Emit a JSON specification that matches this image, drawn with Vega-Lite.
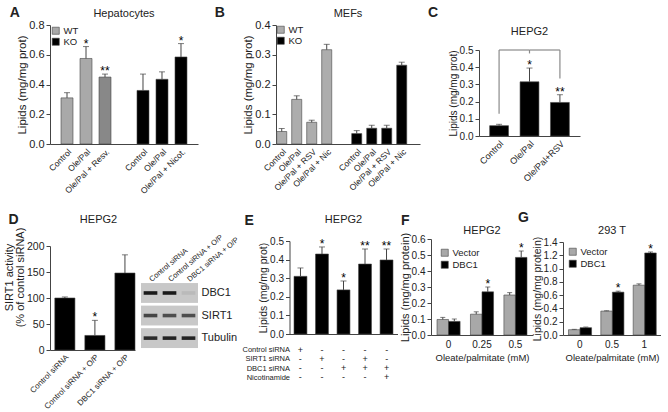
{
"$schema": "https://vega.github.io/schema/vega-lite/v6.json",
"padding": {"left": 3, "top": 6, "right": 0, "bottom": 0},
"background": "white",
"config": {
  "font": "Liberation Sans",
  "view": {"stroke": null},
  "axis": {"grid": false, "labelOverlap": false, "labelColor": "#222", "titleColor": "#222", "domainColor": "#444", "tickColor": "#444", "labelFontSize": 10, "titleFontSize": 11, "titleFontWeight": "normal", "tickSize": 4, "labelPadding": 2, "titlePadding": 1},
  "axisY": {"labelOverlap": false},
  "axisQuantitative": {"labelOverlap": false},
  "title": {"fontSize": 11, "fontWeight": "normal", "color": "#222", "frame": "group"},
  "legend": {"labelFontSize": 9.5, "labelColor": "#222", "symbolType": "square", "symbolSize": 50, "title": null, "padding": 0, "rowPadding": 0, "labelOffset": 3, "symbolStrokeColor": "#444", "symbolStrokeWidth": 0.6}
},
"datasets": {
  "A": [
    {"cond": "WT Control", "geno": "WT", "value": 0.31, "hi": 0.345, "sig": ""},
    {"cond": "WT Ole/Pal", "geno": "WT", "value": 0.575, "hi": 0.655, "sig": "*"},
    {"cond": "WT Ole/Pal + Resv.", "geno": "WT", "value": 0.45, "hi": 0.47, "sig": "**"},
    {"cond": "KO Control", "geno": "KO", "value": 0.36, "hi": 0.47, "sig": ""},
    {"cond": "KO Ole/Pal", "geno": "KO", "value": 0.435, "hi": 0.485, "sig": ""},
    {"cond": "KO Ole/Pal + Nicot.", "geno": "KO", "value": 0.585, "hi": 0.675, "sig": "*"}
  ],
  "B": [
    {"cond": "WT Control", "geno": "WT", "value": 0.042, "hi": 0.052},
    {"cond": "WT Ole/Pal", "geno": "WT", "value": 0.15, "hi": 0.162},
    {"cond": "WT Ole/Pal + RSV", "geno": "WT", "value": 0.073, "hi": 0.08},
    {"cond": "WT Ole/Pal + Nic", "geno": "WT", "value": 0.317, "hi": 0.335},
    {"cond": "KO Control", "geno": "KO", "value": 0.035, "hi": 0.045},
    {"cond": "KO Ole/Pal", "geno": "KO", "value": 0.053, "hi": 0.063},
    {"cond": "KO Ole/Pal + RSV", "geno": "KO", "value": 0.053, "hi": 0.063},
    {"cond": "KO Ole/Pal + Nic", "geno": "KO", "value": 0.265, "hi": 0.275}
  ],
  "C": [
    {"cond": "Control", "value": 0.06, "hi": 0.068, "sig": ""},
    {"cond": "Ole/Pal", "value": 0.315, "hi": 0.395, "sig": "*"},
    {"cond": "Ole/Pal+RSV", "value": 0.195, "hi": 0.24, "sig": "**"}
  ],
  "Cbr": [
    {"a": "Control", "b": "Control", "lo": 0.13, "top": 0.5},
    {"a": "Control", "b": "Ole/Pal", "lo": 0.5, "top": 0.5},
    {"a": "Ole/Pal", "b": "Ole/Pal", "lo": 0.48, "top": 0.5},
    {"a": "Ole/Pal", "b": "Ole/Pal+RSV", "lo": 0.5, "top": 0.5},
    {"a": "Ole/Pal+RSV", "b": "Ole/Pal+RSV", "lo": 0.335, "top": 0.5}
  ],
  "D": [
    {"cond": "Control siRNA", "value": 100, "hi": 102, "sig": ""},
    {"cond": "Control siRNA + O/P", "value": 28, "hi": 57, "sig": "*"},
    {"cond": "DBC1 siRNA + O/P", "value": 148, "hi": 183, "sig": ""}
  ],
  "blot": [
    {"lane": "Control siRNA", "protein": "DBC1", "intensity": 1.0},
    {"lane": "Control siRNA + O/P", "protein": "DBC1", "intensity": 1.0},
    {"lane": "DBC1 siRNA + O/P", "protein": "DBC1", "intensity": 0.08},
    {"lane": "Control siRNA", "protein": "SIRT1", "intensity": 0.75},
    {"lane": "Control siRNA + O/P", "protein": "SIRT1", "intensity": 0.7},
    {"lane": "DBC1 siRNA + O/P", "protein": "SIRT1", "intensity": 0.7},
    {"lane": "Control siRNA", "protein": "Tubulin", "intensity": 0.9},
    {"lane": "Control siRNA + O/P", "protein": "Tubulin", "intensity": 0.95},
    {"lane": "DBC1 siRNA + O/P", "protein": "Tubulin", "intensity": 0.95}
  ],
  "E": [
    {"bar": "1", "value": 0.31, "hi": 0.355, "sig": ""},
    {"bar": "2", "value": 0.43, "hi": 0.468, "sig": "*"},
    {"bar": "3", "value": 0.237, "hi": 0.285, "sig": "*"},
    {"bar": "4", "value": 0.376, "hi": 0.457, "sig": "**"},
    {"bar": "5", "value": 0.398, "hi": 0.457, "sig": "**"}
  ],
  "Etab": [
    {"bar": "1", "row": "Control siRNA", "sign": "+"},
    {"bar": "2", "row": "Control siRNA", "sign": "-"},
    {"bar": "3", "row": "Control siRNA", "sign": "-"},
    {"bar": "4", "row": "Control siRNA", "sign": "-"},
    {"bar": "5", "row": "Control siRNA", "sign": "-"},
    {"bar": "1", "row": "SIRT1 siRNA", "sign": "-"},
    {"bar": "2", "row": "SIRT1 siRNA", "sign": "+"},
    {"bar": "3", "row": "SIRT1 siRNA", "sign": "-"},
    {"bar": "4", "row": "SIRT1 siRNA", "sign": "+"},
    {"bar": "5", "row": "SIRT1 siRNA", "sign": "-"},
    {"bar": "1", "row": "DBC1 siRNA", "sign": "-"},
    {"bar": "2", "row": "DBC1 siRNA", "sign": "-"},
    {"bar": "3", "row": "DBC1 siRNA", "sign": "+"},
    {"bar": "4", "row": "DBC1 siRNA", "sign": "+"},
    {"bar": "5", "row": "DBC1 siRNA", "sign": "+"},
    {"bar": "1", "row": "Nicotinamide", "sign": "-"},
    {"bar": "2", "row": "Nicotinamide", "sign": "-"},
    {"bar": "3", "row": "Nicotinamide", "sign": "-"},
    {"bar": "4", "row": "Nicotinamide", "sign": "-"},
    {"bar": "5", "row": "Nicotinamide", "sign": "+"}
  ],
  "F": [
    {"dose": "0", "vec": "Vector", "value": 0.097, "hi": 0.11, "sig": ""},
    {"dose": "0", "vec": "DBC1", "value": 0.085, "hi": 0.1, "sig": ""},
    {"dose": "0.25", "vec": "Vector", "value": 0.13, "hi": 0.145, "sig": ""},
    {"dose": "0.25", "vec": "DBC1", "value": 0.27, "hi": 0.3, "sig": "*"},
    {"dose": "0.5", "vec": "Vector", "value": 0.25, "hi": 0.265, "sig": ""},
    {"dose": "0.5", "vec": "DBC1", "value": 0.485, "hi": 0.525, "sig": "*"}
  ],
  "G": [
    {"dose": "0", "vec": "Vector", "value": 0.08, "hi": 0.085, "sig": ""},
    {"dose": "0", "vec": "DBC1", "value": 0.11, "hi": 0.12, "sig": ""},
    {"dose": "0.5", "vec": "Vector", "value": 0.36, "hi": 0.365, "sig": ""},
    {"dose": "0.5", "vec": "DBC1", "value": 0.645, "hi": 0.66, "sig": "*"},
    {"dose": "1", "vec": "Vector", "value": 0.75, "hi": 0.77, "sig": ""},
    {"dose": "1", "vec": "DBC1", "value": 1.235, "hi": 1.25, "sig": "*"}
  ]
},
"resolve": {"scale": {"color": "independent", "opacity": "independent"}},
"spacing": 16,
"vconcat": [
  {"resolve": {"scale": {"color": "independent"}},
   "spacing": 16,
   "hconcat": [
    {"title": {"text": "A", "anchor": "start", "frame": "bounds", "fontSize": 14, "fontWeight": "bold", "offset": -13, "dx": -7},
     "resolve": {"scale": {"color": "independent"}},
     "spacing": 0,
     "vconcat": [
      {"width": 1, "height": 1, "data": {"values": []}, "mark": "point", "encoding": {}},
      {
      "width": 148, "height": 119,
      "title": {"text": "Hepatocytes", "offset": 0},
      "data": {"name": "A"},
      "encoding": {
        "x": {"field": "cond", "type": "nominal", "sort": null,
          "scale": {"domain": ["WT Control", "WT Ole/Pal", "WT Ole/Pal + Resv.", "gap", "KO Control", "KO Ole/Pal", "KO Ole/Pal + Nicot."], "paddingInner": 0.37, "paddingOuter": 0.58},
          "axis": {"title": null, "labelAngle": -45, "labelFontSize": 8.5, "ticks": false, "labelOverlap": false, "labelExpr": "datum.label == 'gap' ? '' : slice(datum.label, 3)", "labelPadding": 3}},
        "y": {"field": "value", "type": "quantitative", "scale": {"domain": [0, 0.8], "nice": false}, "axis": {"title": "Lipids (mg/mg prot)", "titleFontSize": 11.5, "labelFontSize": 11, "labelOverlap": false, "values": [0, 0.2, 0.4, 0.6, 0.8], "format": ".1f"}}
      },
      "layer": [
        {"mark": {"type": "bar", "stroke": "#444", "strokeWidth": 0.6},
         "encoding": {
           "color": {"condition": {"test": "datum.cond == 'WT Ole/Pal + Resv.'", "value": "#888888"}, "field": "geno", "type": "nominal", "scale": {"domain": ["WT", "KO"], "range": ["#a9a9a9", "#000000"]}, "legend": {"orient": "top-left", "offset": 1}}
         }},
        {"mark": {"type": "rule", "color": "#444"}, "encoding": {"y2": {"field": "hi"}}},
        {"mark": {"type": "tick", "orient": "horizontal", "size": 6, "thickness": 1, "color": "#444"}, "encoding": {"y": {"field": "hi", "type": "quantitative", "axis": {"title": "Lipids (mg/mg prot)", "titleFontSize": 11.5, "labelFontSize": 11, "labelOverlap": false, "values": [0, 0.2, 0.4, 0.6, 0.8], "format": ".1f"}}}},
        {"mark": {"type": "text", "fontSize": 12, "baseline": "alphabetic", "dy": 1}, "encoding": {"y": {"field": "hi", "type": "quantitative", "axis": {"title": "Lipids (mg/mg prot)", "titleFontSize": 11.5, "labelFontSize": 11, "labelOverlap": false, "values": [0, 0.2, 0.4, 0.6, 0.8], "format": ".1f"}}, "text": {"field": "sig"}}}
      ]
    }]},
    {"resolve": {"scale": {"color": "independent"}},
     "spacing": 8,
     "hconcat": [
      {"title": {"text": "B", "anchor": "start", "frame": "bounds", "fontSize": 14, "fontWeight": "bold", "offset": -13, "dx": -28},
       "resolve": {"scale": {"color": "independent"}},
       "spacing": 0,
       "vconcat": [
        {"width": 1, "height": 1, "data": {"values": []}, "mark": "point", "encoding": {}},
        {
        "width": 144, "height": 119,
        "title": {"text": "MEFs", "offset": 0},
        "data": {"name": "B"},
        "encoding": {
          "x": {"field": "cond", "type": "nominal", "sort": null,
            "scale": {"domain": ["WT Control", "WT Ole/Pal", "WT Ole/Pal + RSV", "WT Ole/Pal + Nic", "gap", "KO Control", "KO Ole/Pal", "KO Ole/Pal + RSV", "KO Ole/Pal + Nic"], "paddingInner": 0.33, "paddingOuter": 0.465, "align": 0.05},
            "axis": {"title": null, "labelAngle": -45, "labelFontSize": 8.5, "ticks": false, "labelOverlap": false, "labelExpr": "datum.label == 'gap' ? '' : slice(datum.label, 3)", "labelPadding": 3}},
          "y": {"field": "value", "type": "quantitative", "scale": {"domain": [0, 0.4], "nice": false}, "axis": {"title": "Lipids (mg/mg prot)", "titleFontSize": 11.5, "labelFontSize": 11, "labelOverlap": false, "values": [0, 0.1, 0.2, 0.3, 0.4], "format": ".1f"}}
        },
        "layer": [
          {"mark": {"type": "bar", "stroke": "#444", "strokeWidth": 0.6},
           "encoding": {
             "color": {"field": "geno", "type": "nominal", "scale": {"domain": ["WT", "KO"], "range": ["#adadad", "#000000"]}, "legend": {"orient": "top-left", "offset": 0}}
           }},
          {"mark": {"type": "rule", "color": "#444"}, "encoding": {"y2": {"field": "hi"}}},
          {"mark": {"type": "tick", "orient": "horizontal", "size": 6, "thickness": 1, "color": "#444"}, "encoding": {"y": {"field": "hi", "type": "quantitative", "axis": {"title": "Lipids (mg/mg prot)", "titleFontSize": 11.5, "labelFontSize": 11, "labelOverlap": false, "values": [0, 0.1, 0.2, 0.3, 0.4], "format": ".1f"}}}}
        ]
      }]},
      {"title": {"text": "C", "anchor": "start", "frame": "bounds", "fontSize": 14, "fontWeight": "bold", "offset": -13, "dx": -20},
       "spacing": 0,
       "vconcat": [
        {"width": 1, "height": 17.5, "data": {"values": []}, "mark": "point", "encoding": {}},
        {
        "width": 101, "height": 86,
        "title": {"text": "HEPG2", "offset": 8.5},
        "encoding": {
          "x": {"field": "cond", "type": "nominal", "sort": null,
            "scale": {"domain": ["Control", "Ole/Pal", "Ole/Pal+RSV"], "paddingInner": 0.38, "paddingOuter": 0.35},
            "axis": {"title": null, "labelAngle": -45, "labelFontSize": 9, "ticks": false, "labelOverlap": false, "labelPadding": 3}}
        },
        "layer": [
          {"data": {"name": "C"}, "mark": {"type": "bar", "color": "#000", "stroke": "#444", "strokeWidth": 0.6},
           "encoding": {
             "y": {"field": "value", "type": "quantitative", "scale": {"domain": [0, 0.5], "nice": false}, "axis": {"title": "Lipids (mg/mg prot)", "titleFontSize": 10, "labelOverlap": false, "values": [0, 0.1, 0.2, 0.3, 0.4, 0.5], "format": ".1f"}}
           }},
          {"data": {"name": "C"}, "mark": {"type": "rule", "color": "#444"}, "encoding": {"y": {"field": "value", "type": "quantitative", "axis": {"title": "Lipids (mg/mg prot)", "titleFontSize": 10, "labelOverlap": false, "values": [0, 0.1, 0.2, 0.3, 0.4, 0.5], "format": ".1f"}}, "y2": {"field": "hi"}}},
          {"data": {"name": "C"}, "mark": {"type": "tick", "orient": "horizontal", "size": 6, "thickness": 1, "color": "#444"}, "encoding": {"y": {"field": "hi", "type": "quantitative", "axis": {"title": "Lipids (mg/mg prot)", "titleFontSize": 10, "labelOverlap": false, "values": [0, 0.1, 0.2, 0.3, 0.4, 0.5], "format": ".1f"}}}},
          {"data": {"name": "C"}, "mark": {"type": "text", "fontSize": 12, "baseline": "alphabetic", "dy": 1}, "encoding": {"y": {"field": "hi", "type": "quantitative", "axis": {"title": "Lipids (mg/mg prot)", "titleFontSize": 10, "labelOverlap": false, "values": [0, 0.1, 0.2, 0.3, 0.4, 0.5], "format": ".1f"}}, "text": {"field": "sig"}}},
          {"data": {"name": "Cbr"}, "mark": {"type": "rule", "color": "#8a8a8a", "strokeWidth": 1.2},
           "encoding": {"x": {"field": "a", "type": "nominal"}, "x2": {"field": "b"}, "y": {"field": "lo", "type": "quantitative", "axis": {"title": "Lipids (mg/mg prot)", "titleFontSize": 10, "labelOverlap": false, "values": [0, 0.1, 0.2, 0.3, 0.4, 0.5], "format": ".1f"}}, "y2": {"field": "top"}}}
        ]
      }]}
    ]}
  ]},
  {"resolve": {"scale": {"color": "independent", "opacity": "independent"}},
   "spacing": 1.5,
   "hconcat": [
    {"title": {"text": "D", "anchor": "start", "frame": "bounds", "fontSize": 14, "fontWeight": "bold", "offset": -14, "dx": 5},
     "resolve": {"scale": {"opacity": "independent"}},
     "spacing": 0,
     "vconcat": [
      {"width": 1, "height": 1, "data": {"values": []}, "mark": "point", "encoding": {}},
      {"spacing": 5,
       "hconcat": [
        {
          "width": 85, "height": 104,
          "title": {"text": "HEPG2", "offset": 2, "dx": 6},
          "data": {"name": "D"},
          "encoding": {
            "x": {"field": "cond", "type": "nominal", "sort": null,
              "scale": {"paddingInner": 0.33, "paddingOuter": 0.08, "align": 1},
              "axis": {"title": null, "labelAngle": -45, "labelFontSize": 8, "ticks": false, "labelOverlap": false, "labelPadding": 3}},
            "y": {"field": "value", "type": "quantitative", "scale": {"domain": [0, 200], "nice": false}, "axis": {"title": ["SIRT1 activity", "(% of control siRNA)"], "titleFontSize": 11, "titleLineHeight": 11, "titleY": 31, "labelFontSize": 10.5, "labelOverlap": false, "values": [0, 50, 100, 150, 200]}}
          },
          "layer": [
            {"mark": {"type": "bar", "color": "#000", "stroke": "#444", "strokeWidth": 0.6}},
            {"mark": {"type": "rule", "color": "#444"}, "encoding": {"y2": {"field": "hi"}}},
            {"mark": {"type": "tick", "orient": "horizontal", "size": 6, "thickness": 1, "color": "#444"}, "encoding": {"y": {"field": "hi", "type": "quantitative", "axis": {"title": ["SIRT1 activity", "(% of control siRNA)"], "titleFontSize": 11, "titleLineHeight": 11, "titleY": 31, "labelFontSize": 10.5, "labelOverlap": false, "values": [0, 50, 100, 150, 200]}}}},
            {"mark": {"type": "text", "fontSize": 12, "baseline": "alphabetic", "dy": 1}, "encoding": {"y": {"field": "hi", "type": "quantitative", "axis": {"title": ["SIRT1 activity", "(% of control siRNA)"], "titleFontSize": 11, "titleLineHeight": 11, "titleY": 31, "labelFontSize": 10.5, "labelOverlap": false, "values": [0, 50, 100, 150, 200]}}, "text": {"field": "sig"}}}
          ]
        },
        {
          "width": 57, "height": 104,
          "data": {"name": "blot"},
          "encoding": {
            "x": {"field": "lane", "type": "nominal", "sort": null, "scale": {"paddingInner": 0, "paddingOuter": 0},
              "axis": {"orient": "top", "offset": -37, "title": null, "ticks": false, "domain": false, "labelOverlap": false, "labelAngle": -40, "labelAlign": "left", "labelBaseline": "middle", "labelFontSize": 7.5, "labelPadding": 3}},
            "y": {"field": "protein", "type": "nominal", "sort": ["DBC1", "SIRT1", "Tubulin"], "scale": {"paddingInner": 0.12, "paddingOuter": 0.864, "align": 0.95},
              "axis": {"orient": "right", "title": null, "ticks": false, "domain": false, "labelFontSize": 11, "labelPadding": 3}}
          },
          "layer": [
            {"mark": {"type": "rect", "color": "#c8c8c8"}},
            {"mark": {"type": "rect", "color": "#1a1a1a", "height": {"band": 0.18}, "width": {"band": 0.72}},
             "encoding": {"opacity": {"field": "intensity", "type": "quantitative", "scale": {"domain": [0, 1], "range": [0, 1]}, "legend": null}}}
          ]
        }
      ]}
     ]},
    {"title": {"text": "E", "anchor": "start", "frame": "bounds", "fontSize": 14, "fontWeight": "bold", "offset": -15, "dx": 2.5},
     "spacing": 0,
     "vconcat": [
      {"width": 1, "height": 1, "data": {"values": []}, "mark": "point", "encoding": {}},
      {"spacing": 6,
       "vconcat": [
        {
          "width": 108, "height": 93,
          "title": {"text": "HEPG2", "offset": 11},
          "data": {"name": "E"},
          "encoding": {
            "x": {"field": "bar", "type": "nominal", "sort": null,
              "scale": {"domain": ["1", "2", "3", "4", "5"], "paddingInner": 0.4, "paddingOuter": 0.21},
              "axis": {"title": null, "labels": false, "ticks": false}},
            "y": {"field": "value", "type": "quantitative", "scale": {"domain": [0, 0.5], "nice": false}, "axis": {"title": "Lipids (mg/mg prot)", "titleFontSize": 10.5, "labelOverlap": false, "values": [0, 0.1, 0.2, 0.3, 0.4, 0.5], "format": ".1f"}}
          },
          "layer": [
            {"mark": {"type": "bar", "color": "#000", "stroke": "#444", "strokeWidth": 0.6}},
            {"mark": {"type": "rule", "color": "#444"}, "encoding": {"y2": {"field": "hi"}}},
            {"mark": {"type": "tick", "orient": "horizontal", "size": 6, "thickness": 1, "color": "#444"}, "encoding": {"y": {"field": "hi", "type": "quantitative", "axis": {"title": "Lipids (mg/mg prot)", "titleFontSize": 10.5, "labelOverlap": false, "values": [0, 0.1, 0.2, 0.3, 0.4, 0.5], "format": ".1f"}}}},
            {"mark": {"type": "text", "fontSize": 12, "baseline": "alphabetic", "dy": 1}, "encoding": {"y": {"field": "hi", "type": "quantitative", "axis": {"title": "Lipids (mg/mg prot)", "titleFontSize": 10.5, "labelOverlap": false, "values": [0, 0.1, 0.2, 0.3, 0.4, 0.5], "format": ".1f"}}, "text": {"field": "sig"}}}
          ]
        },
        {
          "width": 108, "height": 37,
          "data": {"name": "Etab"},
          "mark": {"type": "text", "fontSize": 9, "color": "#222"},
          "encoding": {
            "x": {"field": "bar", "type": "nominal", "sort": null, "scale": {"domain": ["1", "2", "3", "4", "5"]}, "axis": null},
            "y": {"field": "row", "type": "nominal", "sort": ["Control siRNA", "SIRT1 siRNA", "DBC1 siRNA", "Nicotinamide"], "axis": {"title": null, "ticks": false, "domain": false, "labelOverlap": false, "labelFontSize": 7.5, "labelPadding": 0}},
            "text": {"field": "sign"}
          }
        }
      ]}
     ]},
    {"resolve": {"scale": {"color": "independent"}},
     "spacing": -15,
     "hconcat": [
      {"title": {"text": "F", "anchor": "start", "frame": "bounds", "fontSize": 14, "fontWeight": "bold", "offset": -15, "dx": 2},
       "resolve": {"scale": {"color": "independent"}},
       "spacing": 0,
       "vconcat": [
        {"width": 1, "height": 11.5, "data": {"values": []}, "mark": "point", "encoding": {}},
        {
        "width": 102, "height": 96,
        "title": {"text": "HEPG2", "offset": -4},
        "data": {"name": "F"},
        "encoding": {
          "x": {"field": "dose", "type": "nominal", "sort": null,
            "scale": {"paddingInner": 0.31, "paddingOuter": 0.18},
            "axis": {"title": "Oleate/palmitate (mM)", "titleFontSize": 9.5, "labelAngle": 0, "ticks": false, "labelFontSize": 10, "labelPadding": 4, "titlePadding": 3}},
          "xOffset": {"field": "vec", "type": "nominal", "sort": ["Vector", "DBC1"], "scale": {"paddingInner": 0, "paddingOuter": 0}},
          "y": {"field": "value", "type": "quantitative", "scale": {"domain": [0, 0.6], "nice": false}, "axis": {"title": "Lipids (mg/mg protein)", "titleFontSize": 11, "labelOverlap": false, "values": [0, 0.1, 0.2, 0.3, 0.4, 0.5, 0.6], "format": ".1f"}}
        },
        "layer": [
          {"mark": {"type": "bar", "stroke": "#444", "strokeWidth": 0.6},
           "encoding": {
             "color": {"field": "vec", "type": "nominal", "scale": {"domain": ["Vector", "DBC1"], "range": ["#a8a8a8", "#000000"]}, "legend": {"orient": "top-left", "offset": 9, "rowPadding": 1}}
           }},
          {"mark": {"type": "rule", "color": "#444"}, "encoding": {"y2": {"field": "hi"}}},
          {"mark": {"type": "tick", "orient": "horizontal", "size": 5, "thickness": 1, "color": "#444"}, "encoding": {"y": {"field": "hi", "type": "quantitative", "axis": {"title": "Lipids (mg/mg protein)", "titleFontSize": 11, "labelOverlap": false, "values": [0, 0.1, 0.2, 0.3, 0.4, 0.5, 0.6], "format": ".1f"}}}},
          {"mark": {"type": "text", "fontSize": 12, "baseline": "alphabetic", "dy": 1}, "encoding": {"y": {"field": "hi", "type": "quantitative", "axis": {"title": "Lipids (mg/mg protein)", "titleFontSize": 11, "labelOverlap": false, "values": [0, 0.1, 0.2, 0.3, 0.4, 0.5, 0.6], "format": ".1f"}}, "text": {"field": "sig"}}}
        ]
      }]},
      {"title": {"text": "G", "anchor": "start", "frame": "bounds", "fontSize": 14, "fontWeight": "bold", "offset": -12, "dx": -14},
       "resolve": {"scale": {"color": "independent"}},
       "spacing": 0,
       "vconcat": [
        {"width": 1, "height": 11.5, "data": {"values": []}, "mark": "point", "encoding": {}},
        {
        "width": 98, "height": 93,
        "title": {"text": "293 T", "offset": 0},
        "data": {"name": "G"},
        "encoding": {
          "x": {"field": "dose", "type": "nominal", "sort": null,
            "scale": {"paddingInner": 0.31, "paddingOuter": 0.17},
            "axis": {"title": "Oleate/palmitate (mM)", "titleFontSize": 9.5, "labelAngle": 0, "ticks": false, "labelFontSize": 10, "labelPadding": 4, "titlePadding": 3}},
          "xOffset": {"field": "vec", "type": "nominal", "sort": ["Vector", "DBC1"], "scale": {"paddingInner": 0, "paddingOuter": 0}},
          "y": {"field": "value", "type": "quantitative", "scale": {"domain": [0, 1.4], "nice": false}, "axis": {"title": "Lipids (mg/mg protein)", "titleFontSize": 10.5, "labelOverlap": false, "values": [0, 0.2, 0.4, 0.6, 0.8, 1.0, 1.2, 1.4], "format": ".1f"}}
        },
        "layer": [
          {"mark": {"type": "bar", "stroke": "#444", "strokeWidth": 0.6},
           "encoding": {
             "color": {"field": "vec", "type": "nominal", "scale": {"domain": ["Vector", "DBC1"], "range": ["#a8a8a8", "#000000"]}, "legend": {"orient": "top-left", "offset": 5, "rowPadding": 1}}
           }},
          {"mark": {"type": "rule", "color": "#444"}, "encoding": {"y2": {"field": "hi"}}},
          {"mark": {"type": "tick", "orient": "horizontal", "size": 5, "thickness": 1, "color": "#444"}, "encoding": {"y": {"field": "hi", "type": "quantitative", "axis": {"title": "Lipids (mg/mg protein)", "titleFontSize": 10.5, "labelOverlap": false, "values": [0, 0.2, 0.4, 0.6, 0.8, 1.0, 1.2, 1.4], "format": ".1f"}}}},
          {"mark": {"type": "text", "fontSize": 12, "baseline": "alphabetic", "dy": 1}, "encoding": {"y": {"field": "hi", "type": "quantitative", "axis": {"title": "Lipids (mg/mg protein)", "titleFontSize": 10.5, "labelOverlap": false, "values": [0, 0.2, 0.4, 0.6, 0.8, 1.0, 1.2, 1.4], "format": ".1f"}}, "text": {"field": "sig"}}}
        ]
      }]}
    ]}
  ]}
]
}
